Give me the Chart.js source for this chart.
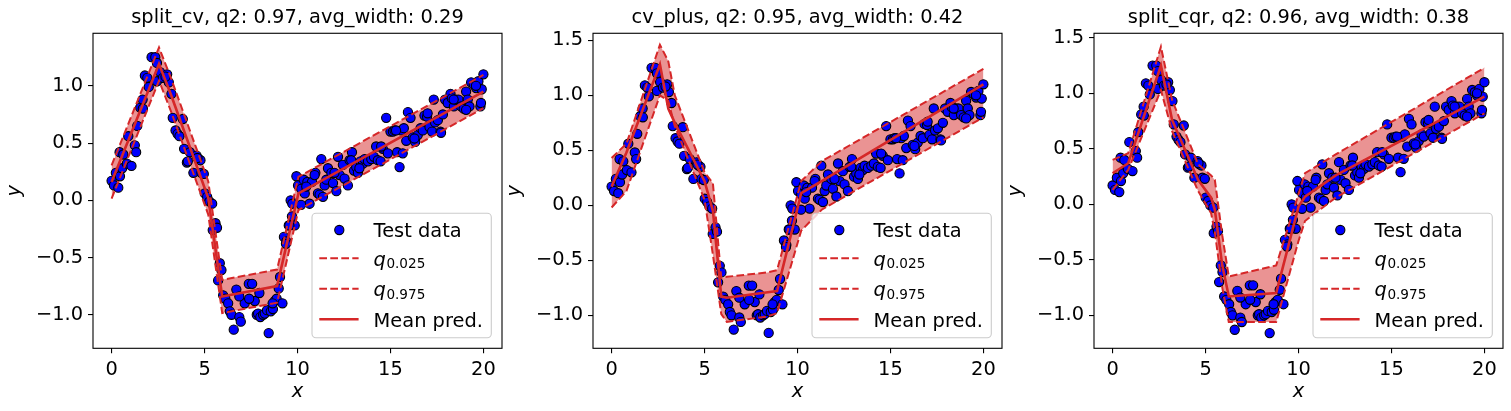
<!DOCTYPE html>
<html><head><meta charset="utf-8">
<script src="https://cdn.jsdelivr.net/npm/chart.js@4.4.0/dist/chart.umd.min.js"></script>
<style>
html,body{margin:0;padding:0;background:#fff;width:1511px;height:411px;overflow:hidden;position:relative}
canvas{position:absolute;top:0}
</style></head>
<body>
<canvas id="c0" width="510" height="411" style="left:0px"></canvas>
<canvas id="c1" width="510" height="411" style="left:500px"></canvas>
<canvas id="c2" width="510" height="411" style="left:1001px"></canvas>
<script>
// ---------- data ----------
const testX = [0.0,0.13,0.36,0.23,0.45,0.43,0.63,0.57,0.82,0.9,
1.07,1.25,1.32,1.38,1.54,1.67,1.79,1.92,2.0,2.15,
2.35,2.44,2.44,2.61,2.76,2.99,3.08,3.22,3.29,3.44,
3.55,3.83,3.9,4.05,4.21,4.4,4.57,4.69,4.78,4.83,
4.96,5.01,5.14,5.26,5.41,5.44,5.59,5.67,5.82,5.91,
5.73,6.0,6.12,6.27,6.36,6.45,6.57,6.71,6.87,6.95,
7.16,7.38,7.56,7.7,7.81,7.88,8.0,8.15,8.24,8.36,
8.45,8.56,8.68,8.77,8.88,8.99,9.06,9.19,9.27,9.4,
9.53,9.7,9.63,9.72,9.85,9.94,10.03,10.2,10.33,10.39,
10.53,10.65,10.78,10.96,11.1,11.19,11.28,11.46,11.55,11.64,
11.82,11.91,12.09,12.18,12.27,12.44,12.53,12.71,12.8,12.93,
13.04,13.16,13.25,13.39,13.52,13.61,13.79,13.97,14.11,14.23,
14.32,14.47,14.59,14.77,14.86,15.0,15.13,15.22,15.36,15.49,
15.58,15.72,15.85,15.94,16.08,16.2,16.33,16.47,16.62,16.74,
16.83,16.97,17.1,17.24,17.33,17.4,17.55,17.69,17.82,17.94,
18.08,18.23,18.3,18.41,18.53,18.66,18.8,18.94,19.07,19.16,
19.25,19.34,19.48,19.61,19.73,19.84,19.91,20.0,
1.68,2.9,3.65,4.1,4.62,6.87,7.4,7.95,8.66,9.38,
9.56,10.19,10.47,10.92,11.37,11.99,12.89,13.33,14.5,15.3,
15.66,16.29,17.0,17.72,18.4,19.07,19.6,19.87];
const testY = [0.17,0.13,0.11,0.24,0.21,0.42,0.40,0.28,0.32,0.56,
0.30,0.48,0.42,0.65,0.81,0.88,1.09,1.07,0.99,1.25,
1.25,1.20,1.04,1.12,1.07,1.10,1.03,0.93,0.72,0.61,
0.58,0.71,0.45,0.33,0.42,0.24,0.39,0.36,0.35,0.24,
0.23,0.06,0.03,-0.01,-0.03,-0.26,-0.20,-0.24,-0.55,-0.61,
-0.70,-0.83,-0.86,-0.90,-0.97,-1.00,-1.13,-0.78,-1.02,-1.06,
-0.90,-0.73,-0.73,-0.88,-1.00,-0.99,-1.02,-1.00,-0.99,-0.96,
-1.16,-0.97,-0.95,-0.88,-0.86,-0.77,-0.67,-0.90,-0.32,-0.36,
-0.22,-0.14,0.00,-0.03,-0.22,0.21,0.13,0.10,0.18,0.06,
0.16,-0.03,0.16,0.24,0.06,0.05,0.36,0.13,0.18,0.28,
0.24,0.15,0.08,0.38,0.22,0.31,0.19,0.13,0.35,0.42,
0.26,0.29,0.24,0.34,0.32,0.36,0.34,0.36,0.38,0.47,
0.35,0.34,0.45,0.72,0.41,0.60,0.60,0.61,0.42,0.29,
0.61,0.63,0.52,0.77,0.72,0.55,0.51,0.57,0.63,0.61,
0.74,0.73,0.64,0.60,0.88,0.68,0.70,0.60,0.75,0.88,
0.85,0.93,0.89,0.82,0.88,0.88,0.82,0.80,0.95,0.88,
0.82,1.03,1.01,0.98,1.04,0.82,0.97,1.10,
0.80,1.08,0.56,0.34,0.37,-0.84,-0.86,-0.81,-0.90,-0.38,
-0.22,-0.04,0.12,0.22,0.03,0.24,0.35,0.28,0.47,0.61,
0.41,0.54,0.76,0.59,0.88,0.79,1.00,0.85];

// split_cv
const splitCvX    = [0, 2.55, 3.2, 5.2, 5.95, 8.9, 10.05, 20];
const splitCvMean = [0.16, 1.19, 0.92, 0.02, -0.84, -0.75, 0.06, 0.95];
const splitCvLow  = [0.015, 1.045, 0.775, -0.125, -0.985, -0.895, -0.085, 0.805];
const splitCvHigh = [0.305, 1.335, 1.065, 0.165, -0.695, -0.605, 0.205, 1.095];
// cv_plus
const cvPlusX    = [0, 0.8, 2.6, 3.05, 3.4, 5.0, 5.45, 5.9, 6.2, 8.4, 8.9, 10.2, 11.3, 20];
const cvPlusMean = [0.17, 0.48, 1.28, 0.88, 0.75, 0.22, -0.05, -0.83, -0.84, -0.79, -0.78, 0.11, 0.22, 1.10];
const cvPlusLow  = [-0.02, 0.13, 1.0, 0.95, 0.72, 0.05, -0.45, -0.99, -1.06, -1.01, -0.98, -0.23, -0.04, 0.80];
const cvPlusHigh = [0.43, 0.56, 1.46, 1.31, 1.0, 0.30, 0.20, -0.66, -0.65, -0.61, -0.59, 0.22, 0.40, 1.24];
// split_cqr
const splitCqrX    = [0, 0.84, 2.6, 3.2, 4.6, 5.3, 5.5, 5.9, 6.25, 8.8, 10.0, 10.35, 12.0, 20];
const splitCqrMean = [0.28, 0.37, 1.25, 0.76, 0.22, 0.06, -0.05, -0.55, -0.83, -0.80, -0.02, 0.07, 0.26, 0.97];
const splitCqrLow  = [0.13, 0.31, 1.03, 0.66, 0.12, -0.08, -0.25, -0.75, -1.06, -1.06, -0.33, -0.15, 0.06, 0.82];
const splitCqrHigh = [0.40, 0.46, 1.42, 0.94, 0.36, 0.26, 0.22, -0.28, -0.65, -0.55, 0.09, 0.28, 0.45, 1.23];

const panelTitles = ['split_cv, q2: 0.97, avg_width: 0.29', 'cv_plus, q2: 0.95, avg_width: 0.42', 'split_cqr, q2: 0.96, avg_width: 0.38'];
const xTicks = [0, 5, 10, 15, 20];
const xTickLabels = ['0', '5', '10', '15', '20'];
const yTicks1 = [-1.0, -0.5, 0.0, 0.5, 1.0];
const yTickLabels1 = ['\u22121.0', '\u22120.5', '0.0', '0.5', '1.0'];
const yTicks2 = [-1.0, -0.5, 0.0, 0.5, 1.0, 1.5];
const yTickLabels2 = ['\u22121.0', '\u22120.5', '0.0', '0.5', '1.0', '1.5'];
const legendLabels = ['Test data', 'q_0.025', 'q_0.975', 'Mean pred.'];

// ---------- rendering ----------
const RED = '#d62728';
const FILL = 'rgba(214,39,40,0.5)';
const FAM = "'DejaVu Sans', 'Liberation Sans', sans-serif";
const FS = 19.4;
Chart.defaults.font.family = FAM;
Chart.defaults.color = '#000';

const pts = (xs, ys) => xs.map((x, i) => ({x: x, y: ys[i]}));

const framePlugin = {
  id: 'frame',
  afterDatasetsDraw(chart) {
    const a = chart.chartArea, c = chart.ctx;
    c.save(); c.strokeStyle = '#000'; c.lineWidth = 1.1;
    c.strokeRect(a.left, a.top, a.right - a.left, a.bottom - a.top);
    c.restore();
  }
};

const legendPlugin = {
  id: 'mplLegend',
  afterDraw(chart) {
    const a = chart.chartArea, c = chart.ctx;
    const w = 179.3, h = 124.4;
    const bx = a.right - 10.7 - w, by = a.bottom - 10.6 - h;
    c.save();
    c.beginPath();
    c.roundRect(bx, by, w, h, 4);
    c.fillStyle = 'rgba(255,255,255,0.8)'; c.fill();
    c.strokeStyle = '#cccccc'; c.lineWidth = 1.1; c.stroke();
    const rows = [16.7, 45, 75.4, 106];
    const ds = chart.data.datasets;
    rows.forEach((ry, i) => {
      const y = by + ry;
      const d = ds[i];
      if (i === 0) {
        c.beginPath(); c.arc(bx + 27.3, y, d.pointRadius, 0, Math.PI * 2);
        c.fillStyle = d.backgroundColor; c.fill();
        c.strokeStyle = d.borderColor; c.lineWidth = d.borderWidth; c.stroke();
      } else {
        c.beginPath(); c.setLineDash(d.borderDash || []);
        c.moveTo(bx + 7.3, y); c.lineTo(bx + 46.6, y);
        c.strokeStyle = d.borderColor; c.lineWidth = d.borderWidth; c.stroke();
        c.setLineDash([]);
      }
      const lab = d.label;
      c.fillStyle = '#000'; c.textBaseline = 'alphabetic'; c.textAlign = 'left';
      if (lab.startsWith('q_')) {
        c.font = 'italic ' + FS + 'px ' + FAM;
        const tx = bx + 61.6;
        c.fillText('q', tx, y + 7.5);
        const qw = c.measureText('q').width;
        c.font = (FS * 0.7) + 'px ' + FAM;
        c.fillText(lab.slice(2), tx + qw + 0.5, y + 10);
      } else {
        c.font = FS + 'px ' + FAM;
        c.fillText(lab, bx + 61.6, y + 7.2);
      }
    });
    c.restore();
  }
};

function makePanel(id, title, vx, mean, low, high, yMin, yMax, yT, yTL) {
  const tickFont = {family: FAM, size: FS};
  return new Chart(document.getElementById(id), {
    type: 'scatter',
    data: {datasets: [
      {label: legendLabels[0], data: pts(testX, testY), showLine: false, backgroundColor: '#0000ff', borderColor: '#000000', borderWidth: 1.1, pointRadius: 4.6, order: 3},
      {label: legendLabels[1], data: pts(vx, low), showLine: true, borderColor: RED, borderWidth: 2, borderDash: [7.7, 3.3], pointRadius: 0, fill: false, order: 2},
      {label: legendLabels[2], data: pts(vx, high), showLine: true, borderColor: RED, borderWidth: 2, borderDash: [7.7, 3.3], pointRadius: 0, fill: '-1', backgroundColor: FILL, order: 2},
      {label: legendLabels[3], data: pts(vx, mean), showLine: true, borderColor: RED, borderWidth: 2.6, pointRadius: 0, fill: false, order: 1}
    ]},
    options: {
      responsive: false, animation: false, events: [],
      layout: {padding: {left: 0, right: 8, top: 0, bottom: 0}},
      plugins: {
        legend: {display: false}, tooltip: {enabled: false},
        filler: {drawTime: 'beforeDatasetsDraw'},
        title: {display: true, fullSize: false, align: 'center', text: title, color: '#000', font: {family: FAM, size: FS, weight: 'normal'}, padding: {top: 6.6, bottom: 3.4}}
      },
      scales: {
        x: {
          type: 'linear', min: -1, max: 21,
          afterBuildTicks: s => { s.ticks = xTicks.map(v => ({value: v})); },
          afterFit: s => { s.height = 62.7; },
          grid: {display: true, drawOnChartArea: false, drawTicks: true, tickLength: 5, color: '#000', lineWidth: 1.1},
          border: {display: false},
          ticks: {font: tickFont, color: '#000', padding: 5, maxRotation: 0, autoSkip: false,
                  callback: v => xTickLabels[xTicks.indexOf(v)]},
          title: {display: true, text: 'x', color: '#000', font: {family: FAM, size: FS, style: 'italic'}, padding: {top: 0, bottom: 7.7}}
        },
        y: {
          type: 'linear', min: yMin, max: yMax,
          afterBuildTicks: s => { s.ticks = yT.map(v => ({value: v})); },
          afterFit: s => { s.width = 93; },
          grid: {display: true, drawOnChartArea: false, drawTicks: true, tickLength: 5, color: '#000', lineWidth: 1.1},
          border: {display: false},
          ticks: {font: tickFont, color: '#000', padding: 5, autoSkip: false,
                  callback: v => yTL[yT.indexOf(v)]},
          title: {display: true, text: 'y', color: '#000', font: {family: FAM, size: FS, style: 'italic'}, padding: {top: 3.4, bottom: 0}}
        }
      }
    },
    plugins: [framePlugin, legendPlugin]
  });
}

makePanel('c0', panelTitles[0], splitCvX, splitCvMean, splitCvLow, splitCvHigh, -1.293, 1.459, yTicks1, yTickLabels1);
makePanel('c1', panelTitles[1], cvPlusX, cvPlusMean, cvPlusLow, cvPlusHigh, -1.30, 1.564, yTicks2, yTickLabels2);
makePanel('c2', panelTitles[2], splitCqrX, splitCqrMean, splitCqrLow, splitCqrHigh, -1.297, 1.541, yTicks2, yTickLabels2);
</script>
</body></html>
